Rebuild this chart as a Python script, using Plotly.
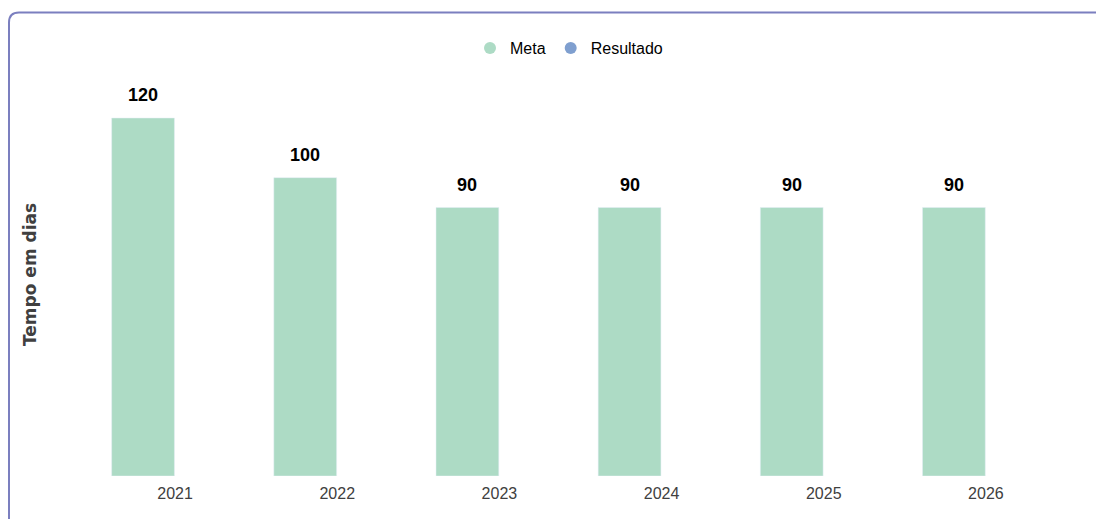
import plotly.graph_objects as go

years = ["2021", "2022", "2023", "2024", "2025", "2026"]
meta = [120, 100, 90, 90, 90, 90]
resultado = [None, None, None, None, None, None]

W, H = 1104, 519
L, R, T, B = 86, 45, 52, 51
pw = W - L - R
ph = H - T - B

def px(x):
    return (x - L) / pw

def py(y):
    return (H - B - y) / ph

META_C = "#addbc5"
RES_C = "#7f9fcf"
FONT = "Liberation Sans, Arial"

fig = go.Figure()
fig.add_trace(go.Bar(x=years, y=meta, name="Meta", marker_color=META_C,
                     showlegend=False))
fig.add_trace(go.Bar(x=years, y=resultado, name="Resultado", marker_color=RES_C,
                     showlegend=False))
fig.add_trace(go.Scatter(x=[None], y=[None], mode="markers", name="Meta",
                         marker=dict(symbol="circle", size=13, color=META_C)))
fig.add_trace(go.Scatter(x=[None], y=[None], mode="markers", name="Resultado",
                         marker=dict(symbol="circle", size=13, color=RES_C)))

for i, v in enumerate(meta):
    fig.add_annotation(x=i, y=v, xref="x", yref="y", text=f"<b>{v}</b>",
                       showarrow=False, xshift=-32, yshift=11, yanchor="bottom",
                       font=dict(family=FONT, size=18, color="#000000"))

fig.add_annotation(x=px(22), y=py(267), xref="paper", yref="paper",
                   text="Tempo em dias", textangle=-90, showarrow=False,
                   xanchor="center", yanchor="middle",
                   font=dict(family="DejaVu Sans", size=17, color="#404040", weight=600))

frame = (f"M {px(1)},{py(540)} L {px(1)},{py(14.5)} "
         f"Q {px(1)},{py(4.5)} {px(11)},{py(4.5)} L {px(1120)},{py(4.5)}")

fig.update_layout(
    width=W, height=H,
    margin=dict(l=L, r=R, t=T, b=B),
    paper_bgcolor="white", plot_bgcolor="white",
    barmode="group", bargap=0.21, bargroupgap=0.02,
    font=dict(family=FONT, color="#404040"),
    legend=dict(orientation="h", x=px(561), xanchor="center", y=py(40), yanchor="middle",
                font=dict(family=FONT, size=16, color="#000000"),
                itemsizing="constant", itemwidth=30, tracegroupgap=0,
                bgcolor="rgba(0,0,0,0)"),
    xaxis=dict(showline=False, showgrid=False, ticks="", zeroline=False,
               tickfont=dict(family=FONT, size=16, color="#404040"),
               ticklabelstandoff=6,
               range=[-0.5, 5.5]),
    yaxis=dict(range=[0, ph / (358 / 120)], showgrid=False, showticklabels=False,
               zeroline=False, showline=False),
    shapes=[dict(type="path", xref="paper", yref="paper", path=frame,
                 line=dict(color="#7b7fbf", width=2))],
)

fig.write_html("out.html")
